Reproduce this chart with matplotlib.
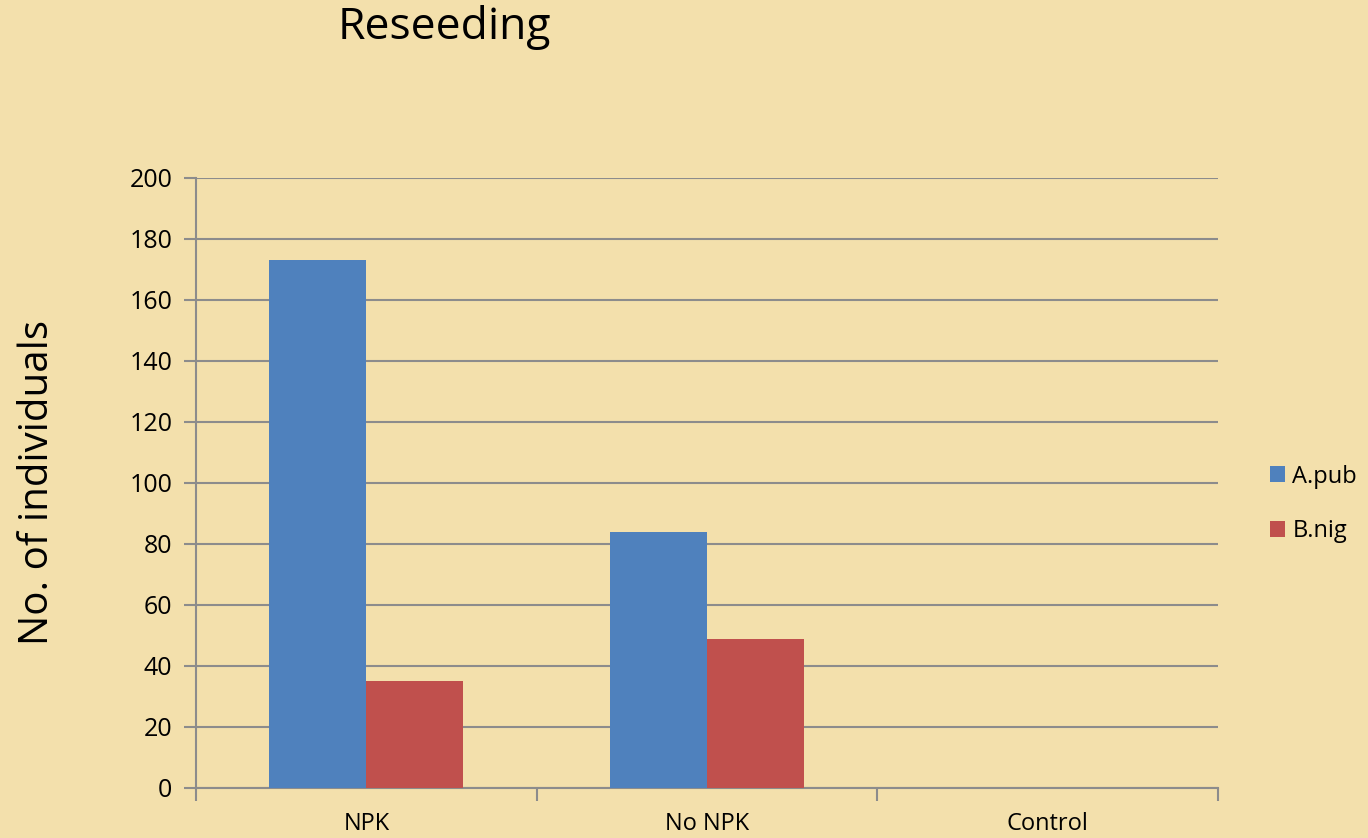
import matplotlib.pyplot as plt
import numpy as np

categories = ["NPK", "No NPK", "Control"]
series_names = ["A.pub", "B.nig"]
a_pub = [173, 84, 0]
b_nig = [35, 49, 0]
yticks = [0, 20, 40, 60, 80, 100, 120, 140, 160, 180, 200]

bg = "#F3E0AC"
grid_c = "#8C8C8C"
colors = ["#4F81BD", "#C0504D"]

plt.rcParams['font.family'] = ['Open Sans', 'DejaVu Sans']

fig = plt.figure(figsize=(13.68, 8.38), dpi=100, facecolor=bg)
ax = fig.add_axes([0.1433, 0.0597, 0.7471, 0.7279])
ax.set_facecolor(bg)

x = np.arange(len(categories))
w = 0.285
ax.bar(x - w / 2, a_pub, width=w, color=colors[0], label=series_names[0], zorder=3)
ax.bar(x + w / 2, b_nig, width=w, color=colors[1], label=series_names[1], zorder=3)

ax.set_xlim(-0.5, 2.5)
ax.set_ylim(0, 200)
ax.set_yticks(yticks)
ax.yaxis.grid(True, color=grid_c, linewidth=1.5, zorder=0)
ax.tick_params(axis='y', length=9, width=1.5, color=grid_c, labelsize=18, pad=8)
ax.set_xticks(x)
ax.set_xticklabels(categories)
ax.set_xticks([-0.5, 0.5, 1.5, 2.5], minor=True)
ax.tick_params(axis='x', which='major', length=0, labelsize=17, pad=17)
ax.tick_params(axis='x', which='minor', length=9, width=1.5, color=grid_c)

for s in ['top', 'right']:
    ax.spines[s].set_visible(False)
for s in ['left', 'bottom']:
    ax.spines[s].set_color(grid_c)
    ax.spines[s].set_linewidth(1.5)

ax.set_ylabel("No. of individuals", fontsize=29)
ax.yaxis.set_label_coords(-(196 - 38) / 1022, 0.5)
ax.yaxis.label.set_va('center')

fig.text(444 / 1368, 1 - 28 / 838, "Reseeding", fontsize=32, ha='center', va='center')

fig.legend(loc='center left', bbox_to_anchor=(1270 / 1368, 1 - 504 / 838),
           frameon=False, fontsize=17, handlelength=0.65, handleheight=0.65,
           handletextpad=0.3, labelspacing=1.3, borderpad=0, borderaxespad=0)

fig.savefig("out.png", dpi=100, facecolor=bg)
